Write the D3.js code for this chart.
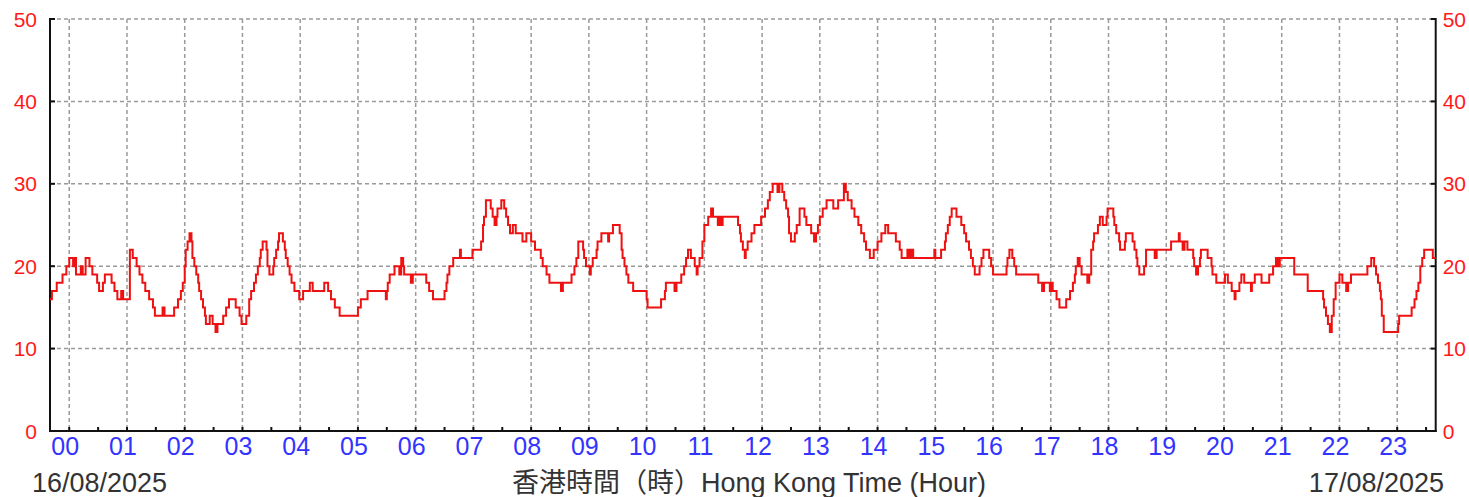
<!DOCTYPE html>
<html>
<head>
<meta charset="utf-8">
<script src="https://cdn.jsdelivr.net/npm/d3@7"></script>
<style>
html,body{margin:0;padding:0;background:#fff;}
svg{display:block;}
</style>
</head>
<body>
<svg id="chart" width="1469" height="497"></svg>
<script>
// ---- data (minutes from 00:00 of 16/08/2025, value held until next change) ----
const minutes = [-20,-18,-13,-7,-3,0,4,5,7,12,14,17,21,24,29,31,35,37,44,47,50,54,56,63,66,70,73,76,79,83,87,89,97,99,109,113,116,118,120,121,123,125,127,128,130,132,134,135,137,139,141,142,146,149,152,154,160,163,166,173,177,179,184,187,189,192,194,196,198,199,201,205,206,208,212,213,215,217,218,222,224,225,227,229,231,234,239,243,250,253,265,269,272,276,281,300,303,310,329,330,331,333,338,343,345,347,348,355,357,371,374,378,390,392,393,395,399,406,407,419,428,430,431,433,438,440,442,444,445,449,452,454,456,458,461,464,471,475,480,484,490,492,496,499,511,513,522,525,527,529,534,535,537,541,542,544,548,549,553,560,561,565,572,574,575,577,579,581,586,600,601,615,619,620,629,631,636,639,641,643,646,650,652,653,655,658,660,664,667,669,674,676,677,679,695,697,698,700,702,703,705,709,712,719,723,726,728,731,736,738,741,743,745,747,748,750,754,756,759,764,766,771,774,776,778,780,783,787,794,799,805,807,809,813,816,820,823,826,828,832,836,840,844,848,851,859,863,865,871,873,875,877,899,900,906,910,911,913,915,917,922,927,930,932,935,937,939,941,946,948,950,956,958,960,974,975,977,980,982,984,1007,1011,1013,1019,1020,1022,1026,1029,1036,1040,1043,1045,1046,1048,1050,1052,1058,1060,1062,1064,1065,1069,1071,1074,1078,1079,1085,1086,1088,1091,1092,1097,1098,1105,1107,1109,1110,1112,1117,1119,1128,1130,1145,1153,1154,1157,1159,1162,1168,1169,1171,1173,1175,1176,1183,1187,1188,1192,1201,1204,1208,1211,1212,1216,1218,1221,1228,1229,1232,1239,1247,1251,1254,1256,1258,1273,1287,1303,1304,1306,1308,1310,1312,1314,1316,1320,1323,1327,1329,1332,1349,1353,1356,1358,1360,1362,1363,1364,1366,1381,1382,1395,1398,1400,1402,1404,1406,1408,1417,1420];
const values = [16,17,18,19,20,21,20,21,19,20,19,21,20,19,18,17,18,19,18,17,16,17,16,22,21,20,19,18,17,16,15,14,15,14,15,16,17,18,20,22,23,24,23,21,20,19,18,17,16,15,14,13,14,13,12,13,14,15,16,15,14,13,14,16,17,18,19,20,21,22,23,22,20,19,20,21,22,23,24,23,22,21,20,19,18,17,16,17,18,17,18,17,16,15,14,15,16,17,16,17,18,19,20,19,21,20,19,18,19,18,17,16,17,18,19,20,21,22,21,22,23,25,26,28,27,26,25,26,27,28,27,26,25,24,25,24,23,24,23,22,21,20,19,18,17,18,19,20,21,23,22,21,20,19,20,21,22,23,24,23,24,25,24,22,21,20,19,18,17,16,15,16,17,18,17,18,19,20,21,22,21,20,19,20,21,23,25,26,27,26,25,26,25,26,25,24,23,22,21,22,23,24,25,26,27,28,29,30,29,30,29,28,27,26,24,23,24,25,27,26,25,24,23,24,25,26,27,28,27,28,30,29,28,27,26,25,24,23,22,21,22,23,24,25,24,23,22,21,22,21,22,21,22,21,22,23,24,25,26,27,26,25,24,23,22,21,20,19,20,21,22,21,20,19,20,21,22,21,20,19,18,17,18,17,18,17,16,15,16,17,18,19,20,21,20,19,18,19,22,23,24,25,26,25,26,27,26,25,24,23,22,23,24,23,22,21,20,19,20,22,21,22,23,24,23,22,23,22,21,20,19,20,21,22,21,20,19,18,19,18,17,16,17,18,19,18,17,18,19,18,19,20,21,20,21,19,17,16,15,14,13,12,14,16,18,19,18,17,18,19,20,21,20,19,18,17,16,14,12,13,14,15,16,17,18,20,21,22,21,21];
const hourLabels = ["00","01","02","03","04","05","06","07","08","09","10","11","12","13","14","15","16","17","18","19","20","21","22","23"];
const yTicks = [0,10,20,30,40,50];
const startDate = "16/08/2025";
const endDate = "17/08/2025";
const axisTitle = "香港時間（時）Hong Kong Time (Hour)";

// ---- layout ----
const svg = d3.select("#chart");
const x = d3.scaleLinear().domain([-20, 1420]).range([50, 1435.7]);
const y = d3.scaleLinear().domain([0, 50]).range([431, 19]);
const latin = "'Liberation Sans', Arial, sans-serif";

// grid
const grid = svg.append("g").attr("stroke", "#9a9a9a").attr("stroke-width", 1.5).attr("stroke-dasharray", "4,3").attr("fill", "none");
grid.selectAll("line.h").data(yTicks.filter(d => d > 0)).join("line")
  .attr("x1", x(-20)).attr("x2", x(1420)).attr("y1", d => y(d)).attr("y2", d => y(d));
grid.selectAll("line.v").data(hourLabels).join("line")
  .attr("x1", (d, i) => x(i * 60)).attr("x2", (d, i) => x(i * 60))
  .attr("y1", y(50)).attr("y2", y(0));

// axes lines
const ax = svg.append("g").attr("stroke", "#111").attr("stroke-width", 2).attr("fill", "none");
ax.append("line").attr("x1", x(-20)).attr("x2", x(-20)).attr("y1", y(50) - 1).attr("y2", y(0) + 1);
ax.append("line").attr("x1", x(1420)).attr("x2", x(1420)).attr("y1", y(50) - 1).attr("y2", y(0) + 1);
ax.append("line").attr("x1", x(-20) - 1).attr("x2", x(1420) + 1).attr("y1", y(0)).attr("y2", y(0));
// y ticks (inward)
ax.selectAll("line.lt").data(yTicks).join("line")
  .attr("x1", x(-20)).attr("x2", x(-20) + 5).attr("y1", d => y(d)).attr("y2", d => y(d));
ax.selectAll("line.rt").data(yTicks).join("line")
  .attr("x1", x(1420)).attr("x2", x(1420) - 5).attr("y1", d => y(d)).attr("y2", d => y(d));
// x ticks every 30 min (inward)
ax.selectAll("line.xt").data(d3.range(0, 1420, 30)).join("line")
  .attr("x1", d => x(d)).attr("x2", d => x(d)).attr("y1", y(0)).attr("y2", y(0) - 4);

// y labels
svg.append("g").selectAll("text").data(yTicks).join("text")
  .attr("x", x(-20) - 13).attr("y", d => y(d)).attr("dy", "0.36em")
  .attr("text-anchor", "end").attr("fill", "#ff1a1a")
  .style("font-family", latin).style("font-size", "21px").text(d => d);
svg.append("g").selectAll("text").data(yTicks).join("text")
  .attr("x", x(1420) + 7).attr("y", d => y(d)).attr("dy", "0.36em")
  .attr("text-anchor", "start").attr("fill", "#ff1a1a")
  .style("font-family", latin).style("font-size", "21px").text(d => d);

// hour labels
svg.append("g").selectAll("text").data(hourLabels).join("text")
  .attr("x", (d, i) => x(i * 60) - 4).attr("y", 455)
  .attr("text-anchor", "middle").attr("fill", "#3333ff")
  .style("font-family", latin).style("font-size", "25px").text(d => d);

// bottom texts
svg.append("text").attr("x", 32).attr("y", 492).attr("fill", "#333")
  .style("font-family", latin).style("font-size", "27px").text(startDate);
svg.append("text").attr("x", 1444).attr("y", 492).attr("text-anchor", "end").attr("fill", "#333")
  .style("font-family", latin).style("font-size", "27px").text(endDate);
svg.append("text").attr("x", 749).attr("y", 492).attr("text-anchor", "middle").attr("fill", "#333")
  .style("font-family", "'Liberation Sans', 'Noto Sans CJK TC', sans-serif").style("font-size", "27px").text(axisTitle);

// data line
const pts = minutes.map((m, i) => [m, values[i]]);
const line = d3.line().x(d => x(d[0])).y(d => y(d[1])).curve(d3.curveStepAfter);
svg.append("path").datum(pts).attr("d", line)
  .attr("fill", "none").attr("stroke", "#ee1111").attr("stroke-width", 2).attr("stroke-linejoin", "miter");
</script>
</body>
</html>
